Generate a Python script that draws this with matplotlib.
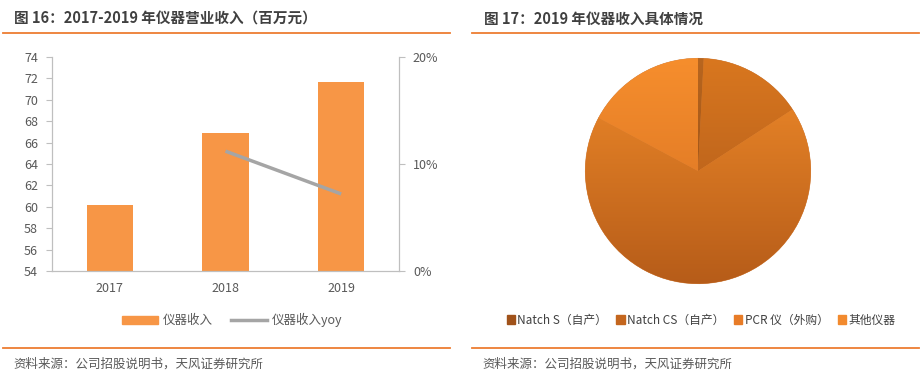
import matplotlib
matplotlib.use("Agg")
import matplotlib.pyplot as plt
import numpy as np
from matplotlib.patches import Patch
from matplotlib.lines import Line2D
from matplotlib.colors import LinearSegmentedColormap

plt.rcParams['font.family'] = ['Noto Sans CJK SC', 'DejaVu Sans']

# data
years = ['2017', '2018', '2019']
revenue = [60.2, 66.9, 71.7]
yoy = [None, 11.2, 7.2]          # %
pie_labels = ['Natch S（自产）', 'Natch CS（自产）', 'PCR 仪（外购）', '其他仪器']
pie_share = [0.8, 15.0, 67.0, 17.2]
pie_top = ['#b8661f', '#d9771f', '#f08b2a', '#f68e2d']
pie_bot = ['#8c4612', '#a8561a', '#b65c19', '#d46e21']
pie_leg = ['#a0521a', '#c4661e', '#e87c27', '#f28a2e']

W, H = 924, 380
fig = plt.figure(figsize=(W / 100, H / 100), dpi=100)
tc = '#595959'
orange = '#ed7d31'

def fx(x):
    return x / W

def fy(y):
    return 1 - y / H

# headers and footers
fig.text(fx(14), fy(19), '图 16：2017-2019 年仪器营业收入（百万元）', fontsize=10.5,
         fontweight='bold', color='#404040', va='center')
fig.text(fx(484), fy(19), '图 17：2019 年仪器收入具体情况', fontsize=10.5,
         fontweight='bold', color='#404040', va='center')
for x0, x1 in [(3, 450), (472, 919)]:
    fig.add_artist(Line2D([fx(x0), fx(x1)], [fy(33), fy(33)], color=orange, lw=1.3))
    fig.add_artist(Line2D([fx(x0), fx(x1)], [fy(348), fy(348)], color=orange, lw=1.3))
fig.text(fx(13), fy(364), '资料来源：公司招股说明书，天风证券研究所', fontsize=9,
         color=tc, va='center')
fig.text(fx(482), fy(364), '资料来源：公司招股说明书，天风证券研究所', fontsize=9,
         color=tc, va='center')

# bar + line chart
ax = fig.add_axes([fx(52), fy(271), fx(399) - fx(52), fy(57) - fy(271)])
x = np.arange(len(years))
ax.bar(x, [v - 54 for v in revenue], bottom=54, width=0.4, color='#f79646', zorder=2)
ax.set_xlim(-0.5, 2.5)
ax.set_ylim(54, 74)
ax.set_yticks(np.arange(54, 75, 2))
ax.set_xticks(x)
ax.set_xticklabels(years)
ax.tick_params(axis='y', colors=tc, labelsize=9, length=4, color='#bfbfbf', pad=6)
ax.tick_params(axis='x', colors=tc, labelsize=9, length=0, pad=8)
ax.spines['top'].set_visible(False)
for s in ['left', 'bottom', 'right']:
    ax.spines[s].set_color('#bfbfbf')

ax2 = ax.twinx()
ax2.plot(x[1:], yoy[1:], color='#a5a5a5', lw=2.5, solid_capstyle='butt', zorder=3)
ax2.set_ylim(0, 20)
ax2.set_yticks([0, 10, 20])
ax2.set_yticklabels(['0%', '10%', '20%'])
ax2.tick_params(axis='y', colors=tc, labelsize=9, length=4, color='#bfbfbf', pad=6)
ax2.spines['top'].set_visible(False)
for s in ['left', 'bottom', 'right']:
    ax2.spines[s].set_color('#bfbfbf')

handles = [Patch(color='#f79646'), Line2D([], [], color='#a5a5a5', lw=2.5)]
fig.legend(handles, ['仪器收入', '仪器收入yoy'], loc='center', ncol=2, frameon=False,
           bbox_to_anchor=(fx(232), fy(320)), fontsize=9, labelcolor=tc,
           handlelength=2.9, handleheight=0.6, columnspacing=1.5, handletextpad=0.35)

# pie chart
pax = fig.add_axes([fx(583), fy(286), 230 / W, 230 / H])
wedges, _ = pax.pie(pie_share, startangle=90, counterclock=False,
                    colors=pie_leg, radius=1.0,
                    wedgeprops=dict(linewidth=0.4, edgecolor='#c97a3a'))
grad = np.linspace(0, 1, 256).reshape(-1, 1)
for w, c0, c1 in zip(wedges, pie_top, pie_bot):
    cmap = LinearSegmentedColormap.from_list('g', [c0, c1])
    im = pax.imshow(grad, cmap=cmap, extent=(-1, 1, -1, 1), aspect='auto',
                    origin='upper', zorder=w.get_zorder() + 0.1)
    im.set_clip_path(w)
pax.set_xlim(-1.02, 1.02)
pax.set_ylim(-1.02, 1.02)
pax.set_aspect('equal')
pax.axis('off')

ph = [Patch(color=c) for c in pie_leg]
fig.legend(ph, pie_labels, loc='center', ncol=4, frameon=False,
           bbox_to_anchor=(fx(701), fy(320)), fontsize=8.5, labelcolor='#404040',
           handlelength=0.7, handleheight=0.7, columnspacing=0.8, handletextpad=0.2)

fig.savefig('out.png', dpi=100)
